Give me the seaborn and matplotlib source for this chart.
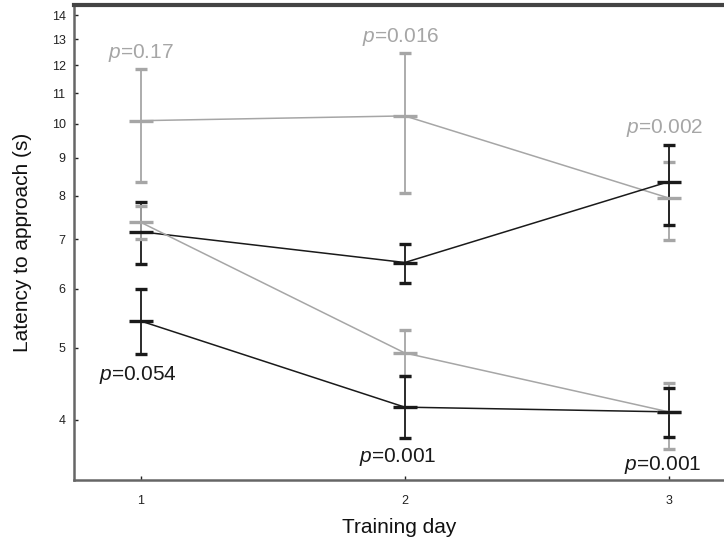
import pandas as pd
import matplotlib
matplotlib.use('Agg')
import matplotlib.pyplot as plt
import seaborn as sns

# Data (latency in s, log axis)
days = [1, 2, 3]

gray_top_mean = [10.1, 10.25, 7.95]
gray_top_lo = [8.36, 8.07, 6.99]
gray_top_hi = [11.85, 12.45, 8.89]

black_top_mean = [7.16, 6.51, 8.36]
black_top_lo = [6.48, 6.11, 7.31]
black_top_hi = [7.85, 6.9, 9.37]

gray_bot_mean = [7.37, 4.92, 4.1]
gray_bot_lo = [7.0, 4.58, 3.66]
gray_bot_hi = [7.75, 5.28, 4.48]

black_bot_mean = [5.43, 4.16, 4.1]
black_bot_lo = [4.91, 3.78, 3.79]
black_bot_hi = [6.0, 4.58, 4.42]

y_ticks = [4, 5, 6, 7, 8, 9, 10, 11, 12, 13, 14]

p_labels = ['p=0.17', 'p=0.016', 'p=0.002', 'p=0.054', 'p=0.001', 'p=0.001']
p_x = [1.0, 1.985, 2.985, 0.99, 1.975, 2.977]
p_y = [12.45, 13.1, 9.88, 4.6, 3.56, 3.48]
p_gray = [True, True, True, False, False, False]

GRAY = '#a6a6a6'
BLACK = '#1a1a1a'

sns.set_style('ticks')
plt.rcParams['font.family'] = ['Liberation Sans', 'DejaVu Sans']
plt.rcParams['mathtext.fontset'] = 'custom'
plt.rcParams['mathtext.rm'] = 'Liberation Sans'
plt.rcParams['mathtext.it'] = 'Liberation Sans:italic'

series = {
    'gray_top': (gray_top_mean, gray_top_lo, gray_top_hi, GRAY),
    'black_top': (black_top_mean, black_top_lo, black_top_hi, BLACK),
    'gray_bot': (gray_bot_mean, gray_bot_lo, gray_bot_hi, GRAY),
    'black_bot': (black_bot_mean, black_bot_lo, black_bot_hi, BLACK),
}

rows = []
for name, (m, lo, hi, c) in series.items():
    for d, v in zip(days, m):
        rows.append({'Day': d, 'Latency': v, 'Group': name})
df = pd.DataFrame(rows)

fig = plt.figure(figsize=(7.24, 5.40), dpi=100)
ax = fig.add_axes([74 / 724, 60 / 540, 1 - 74 / 724, 475 / 540])

palette = {name: s[3] for name, s in series.items()}
sns.lineplot(data=df, x='Day', y='Latency', hue='Group', palette=palette,
             linewidth=1.1, legend=False, ax=ax)

for name, (m, lo, hi, c) in series.items():
    yerr = [[a - b for a, b in zip(m, lo)], [b - a for a, b in zip(m, hi)]]
    ax.errorbar(days, m, yerr=yerr, fmt='_', color=c, ecolor=c,
                elinewidth=1.3, capsize=4.5, capthick=1.2,
                markersize=17, markeredgewidth=2.4, zorder=3)

ax.set_yscale('log')
ax.set_xlim(0.746, 3.21)
ax.set_ylim(3.32, 14.45)
ax.set_yticks(y_ticks)
ax.set_yticklabels([str(t) for t in y_ticks])
ax.yaxis.set_minor_locator(matplotlib.ticker.NullLocator())
ax.set_xticks(days)
ax.set_xticklabels([str(d) for d in days])
ax.tick_params(direction='in', length=3, width=1, labelsize=9,
               colors='#222222')
ax.tick_params(axis='y', pad=6)
ax.tick_params(axis='x', pad=11)

for sp in ['left', 'bottom']:
    ax.spines[sp].set_color('#666666')
    ax.spines[sp].set_linewidth(1.8)
ax.spines['top'].set_visible(True)
ax.spines['top'].set_color('#444444')
ax.spines['top'].set_linewidth(3)
ax.spines['right'].set_visible(False)

ax.set_xlabel('Training day', fontsize=15, color='#111111', labelpad=8)
ax.set_ylabel('Latency to approach (s)', fontsize=15, color='#111111', labelpad=14)

for lab, x, y, g in zip(p_labels, p_x, p_y, p_gray):
    ax.text(x, y, '$p$' + lab[1:], ha='center', va='center', fontsize=15,
            color=GRAY if g else BLACK)

fig.savefig('out.png', dpi=100)
